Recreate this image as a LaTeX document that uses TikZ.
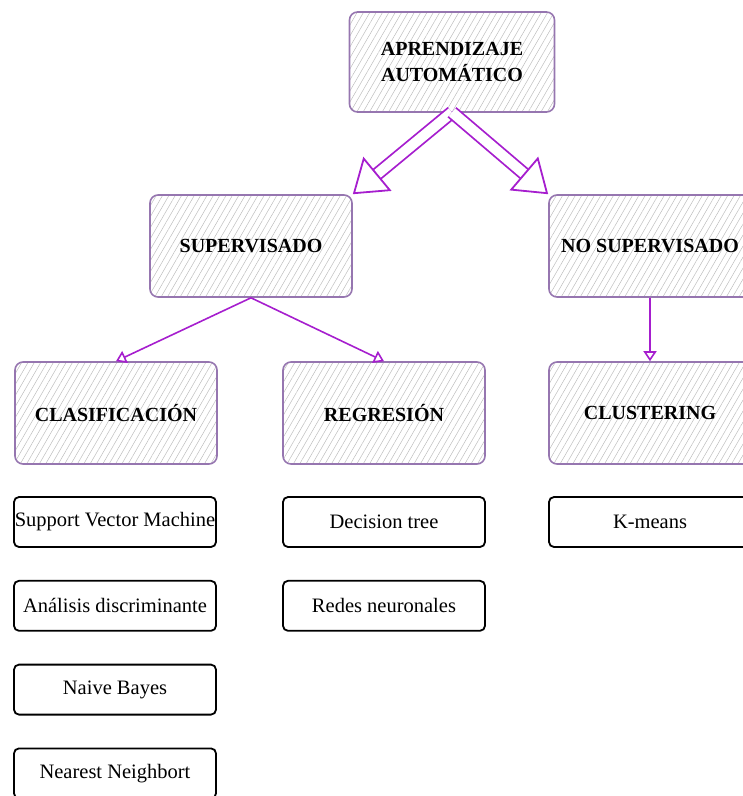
\documentclass[tikz,border=0pt]{standalone}
\usepackage{fontspec}
\setmainfont{Liberation Serif}
\usetikzlibrary{positioning,arrows.meta,patterns.meta}
\definecolor{arrowpurple}{HTML}{A61ECE}
\definecolor{boxpurple}{HTML}{9676B0}
\definecolor{hatchgray}{HTML}{BDBDBD}

\begin{document}
\begin{tikzpicture}[x=1pt, y=-1pt,
  every node/.style={font=\fontsize{20.5}{26}\selectfont},
  topic/.style={rectangle, rounded corners=8pt, draw=boxpurple, line width=1.6pt, minimum width=202pt, minimum height=102pt, align=center, font=\fontsize{20}{26}\selectfont\bfseries, pattern={Lines[angle=60, distance=5.5pt, line width=0.5pt]}, pattern color=hatchgray},
  method/.style={rectangle, rounded corners=5pt, draw=black, line width=1.8pt, minimum width=202pt, minimum height=50pt, inner sep=0pt},
  bigarrow/.style={draw=arrowpurple, line width=1.8pt, double=white, double distance=10pt, -{Triangle[open, length=32pt, width=44pt]}},
  smallarrow/.style={draw=arrowpurple, line width=1.6pt, -{Triangle[open, length=10pt, width=13pt]}}]
    \useasboundingbox (0,0) rectangle (743,796);

    % main boxes
    \node (aa) [topic, minimum width=205pt, minimum height=100pt] at (452,62) {APRENDIZAJE\\AUTOMÁTICO};
    \node (sup) [topic] at (251,246) {SUPERVISADO};
    \node (nosup) [topic] at (650,246) {NO SUPERVISADO};
    \node (clas) [topic] at (116,413) {CLASIFICACIÓN};
    \node (reg) [topic] at (384,413) {REGRESIÓN};
    \node (clus) [topic] at (650,413) {CLUSTERING};

    % methods
    \node (svm) [method] at (115,522) {Support Vector Machine};
    \node (adisc) [method, below=32pt of svm] {Análisis discriminante};
    \node (nbayes) [method, below=32pt of adisc] {Naive Bayes};
    \node (nneigh) [method, below=32pt of nbayes] {Nearest Neighbort};
    \node (dtree) [method] at (384,522) {Decision tree};
    \node (rneur) [method, below=32pt of dtree] {Redes neuronales};
    \node (kmeans) [method] at (650,522) {K-means};

    \draw [bigarrow] (aa.south) -- (sup.north east);
    \draw [bigarrow] (aa.south) -- (nosup.north west);
    \draw [smallarrow] (sup.south) -- (clas.north);
    \draw [smallarrow] (sup.south) -- (reg.north);
    \draw [smallarrow] (nosup.south) -- (clus.north);
\end{tikzpicture}
\end{document}
